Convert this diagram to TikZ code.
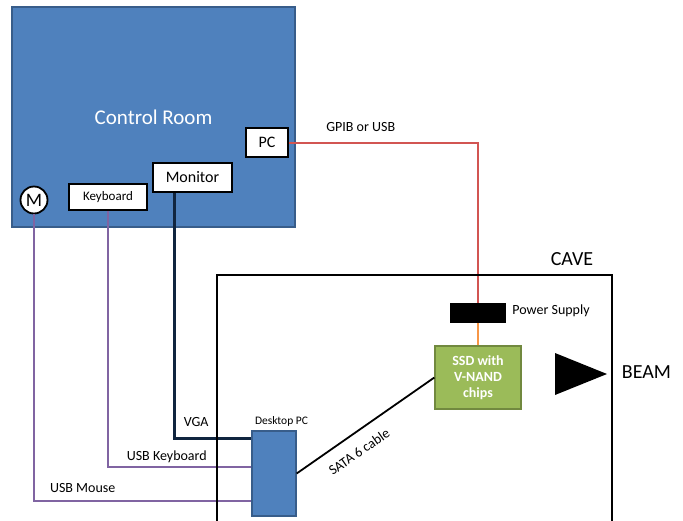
\documentclass[tikz,border=0pt]{standalone}
\usepackage{fontspec}
\setmainfont{Carlito}
\definecolor{roomblue}{HTML}{4F81BD}
\definecolor{roomedge}{HTML}{385D8A}
\definecolor{ssdgreen}{HTML}{9BBB59}
\definecolor{ssdedge}{HTML}{71893F}
\definecolor{usbpurple}{HTML}{8064A2}
\definecolor{vganavy}{HTML}{10253F}
\definecolor{gpibred}{HTML}{D25552}
\definecolor{psorange}{HTML}{F79646}
\newcommand{\fs}[1]{\fontsize{#1}{1.2\dimexpr#1pt\relax}\selectfont}
\begin{document}
\begin{tikzpicture}[x=1pt,y=-1pt,
  bluebox/.style={draw=roomedge, fill=roomblue, line width=1.3pt, inner sep=0pt},
  device/.style={draw=black, fill=white, line width=1.8pt, inner sep=0pt},
  label/.style={inner sep=0pt, anchor=base},
  usb/.style={draw=usbpurple, line width=2pt},
  vga/.style={draw=vganavy, line width=2.8pt},
  wall/.style={draw=black, line width=1.6pt}]
\useasboundingbox (0,0) rectangle (683,520);

% control room and its devices
\node[bluebox, minimum width=283pt, minimum height=220pt, text=white,
      font=\fs{21}] (room) at (153.5,117) {Control Room};
\node[device, minimum width=42pt, minimum height=29pt, font=\fs{16}] (pc) at (267,142.5) {PC};
\node[device, minimum width=79pt, minimum height=29pt, font=\fs{16}] (mon) at (192.5,177.5) {Monitor};
\node[device, minimum width=78pt, minimum height=26pt, font=\fs{13}] (kb) at (108,197) {Keyboard};
\node[device, circle, minimum size=27pt, font=\fs{19}] (mouse) at (34,200) {M};

% cave equipment
\node[bluebox, minimum width=44pt, minimum height=85pt] (dpc) at (274,473.5) {};
\node[label, font=\fs{11.5}] (dpclbl) at ([xshift=7.5pt,yshift=6pt]dpc.north) {Desktop PC};
\node[draw=ssdedge, fill=ssdgreen, line width=1.3pt, minimum width=86pt, minimum height=63pt,
      text=white, font=\bfseries\fs{14}, align=center, inner sep=0pt] (ssd) at (478,377.5)
      {SSD with\\[-1pt]V-NAND\\[-1pt]chips};
\node[fill=black, minimum width=56pt, minimum height=20pt, inner sep=0pt] (ps) at (478,313) {};
\node[inner sep=0pt, anchor=base west, font=\fs{14}] (pslbl) at ([xshift=6pt,yshift=-1.5pt]ps.east) {Power Supply};

% connectors
\draw[draw=gpibred, line width=2pt] (pc.east) -| (ps.north)
  node[label, pos=0.19, yshift=11pt, font=\fs{14}, text=black] {GPIB or USB};
\draw[draw=psorange, line width=2pt] (ps.south) -- (ssd.north);
\draw[vga] ([xshift=22pt]mon.south west) |- ([yshift=-8pt]dpc.north west)
  node[label, pos=0.643, yshift=12pt, font=\fs{14}] {VGA};
\draw[usb] (kb.south) |- ([yshift=-37pt]dpc.north west)
  node[label, pos=0.705, yshift=7pt, font=\fs{14}] {USB Keyboard};
\draw[usb] (mouse.south) |- ([yshift=-71pt]dpc.north west)
  node[label, pos=0.612, yshift=9pt, font=\fs{14}] {USB Mouse};
\draw[draw=black, line width=1.8pt] (dpc.east) -- (ssd.west)
  node[pos=0.38, sloped, below=12pt, inner sep=0pt, font=\fs{14}] {SATA 6 cable};

% cave walls, beam marker and titles
\draw[wall] (217,522) -- (217,275) -- (612,275) -- (612,522);
\fill[black] (555,353) -- (555,395) -- (607,374) -- cycle;
\node[label, font=\fs{20}] (cave) at (572,265) {CAVE};
\node[label, font=\fs{20}] (beam) at (646.5,378) {BEAM};
\end{tikzpicture}
\end{document}
